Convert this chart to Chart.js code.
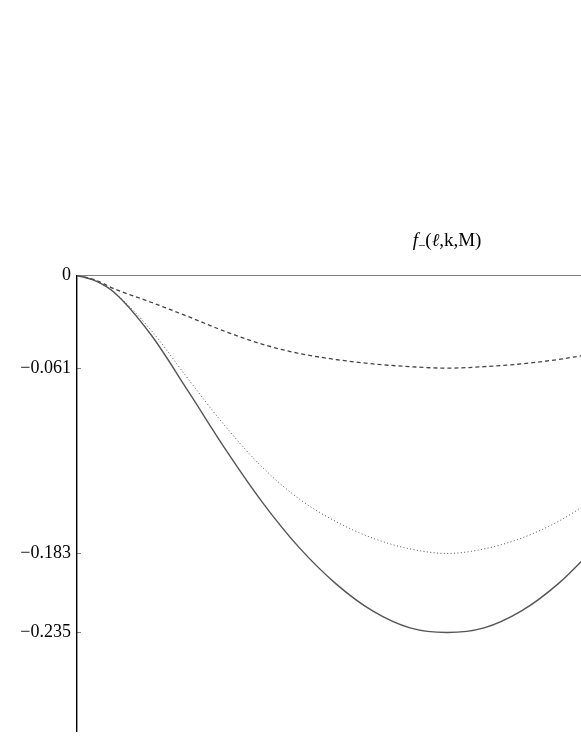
<!DOCTYPE html>
<html>
<head>
<meta charset="utf-8">
<script src="https://cdn.jsdelivr.net/npm/chart.js@4/dist/chart.umd.min.js"></script>
<style>
  html, body { margin: 0; padding: 0; background: #fff; }
  canvas { display: block; }
</style>
</head>
<body>
<canvas id="chart" width="581" height="752"></canvas>
<script>
// curve data (x is in units of the position of the minimum)
const xValues      = [0, 0.05, 0.1, 0.2, 0.3, 0.4, 0.5, 0.6, 0.7, 0.8, 0.9, 1.0, 1.1, 1.2, 1.3, 1.4];
const solidSeries  = [0, -0.0035, -0.011, -0.039, -0.076, -0.114, -0.149, -0.179, -0.203, -0.221, -0.232, -0.235, -0.232, -0.221, -0.203, -0.179];
const dottedSeries = [0, -0.0035, -0.011, -0.036, -0.068, -0.099, -0.126, -0.147, -0.162, -0.173, -0.180, -0.183, -0.180, -0.173, -0.162, -0.147];
const dashedSeries = [0, -0.003, -0.0087, -0.0176, -0.027, -0.0368, -0.0452, -0.0513, -0.0553, -0.0582, -0.060, -0.061, -0.060, -0.0582, -0.0553, -0.0513];
const yTickValues  = [0, -0.061, -0.183, -0.235];

const serif = '"Liberation Serif", "DejaVu Serif", serif';

function toPoints(ys) {
  return xValues.map((x, i) => ({ x: x, y: ys[i] }));
}

function formatTick(v) {
  if (v === 0) return '0';
  return '\u2212' + Math.abs(v).toFixed(3);
}

// title drawn over the middle of the plotted range (the minimum)
const titlePlugin = {
  id: 'curveTitle',
  afterDraw(chart) {
    const ctx = chart.ctx;
    const cx = chart.scales.x.getPixelForValue(1);
    const baseY = 246;
    const parts = [
      { text: 'f', font: 'italic 19px ' + serif, dy: 0 },
      { text: '\u2212', font: '13px ' + serif, dy: 4 },
      { text: '(', font: '19px ' + serif, dy: 0 },
      { text: '\u2113', font: 'italic 18px ' + serif, dy: 0 },
      { text: ',k,M)', font: '19px ' + serif, dy: 0 }
    ];
    ctx.save();
    ctx.fillStyle = '#000';
    ctx.textBaseline = 'alphabetic';
    let total = 0;
    parts.forEach(p => {
      ctx.font = p.font;
      p.w = ctx.measureText(p.text).width;
      total += p.w;
    });
    let x = cx - total / 2;
    parts.forEach(p => {
      ctx.font = p.font;
      ctx.fillText(p.text, x, baseY + p.dy);
      x += p.w;
    });
    ctx.restore();
  }
};

const ctx = document.getElementById('chart').getContext('2d');
const chart = new Chart(ctx, {
  type: 'line',
  data: {
    datasets: [
      {
        label: 'solid',
        data: toPoints(solidSeries),
        borderColor: '#555',
        borderWidth: 1.4,
        pointRadius: 0,
        cubicInterpolationMode: 'monotone',
        fill: false
      },
      {
        label: 'dotted',
        data: toPoints(dottedSeries),
        borderColor: '#555',
        borderWidth: 1,
        borderDash: [1, 2.4],
        pointRadius: 0,
        cubicInterpolationMode: 'monotone',
        fill: false
      },
      {
        label: 'dashed',
        data: toPoints(dashedSeries),
        borderColor: '#444',
        borderWidth: 1.3,
        borderDash: [4, 3],
        pointRadius: 0,
        cubicInterpolationMode: 'monotone',
        fill: false
      }
    ]
  },
  options: {
    responsive: false,
    devicePixelRatio: 1,
    animation: false,
    layout: { padding: { top: 275.5, bottom: 19, left: 0, right: 0 } },
    plugins: {
      legend: { display: false },
      tooltip: { enabled: false }
    },
    scales: {
      x: {
        type: 'linear',
        position: 'top',
        min: 0,
        max: 1.362,
        ticks: { display: false },
        grid: { drawOnChartArea: false, drawTicks: false },
        border: { display: true, color: '#808080', width: 1 }
      },
      y: {
        type: 'linear',
        min: -0.3,
        max: 0,
        afterBuildTicks: scale => {
          scale.ticks = yTickValues.map(v => ({ value: v }));
        },
        afterFit: scale => { scale.width = 77; },
        ticks: {
          color: '#000',
          padding: 10,
          font: { family: serif, size: 18 },
          callback: v => formatTick(v)
        },
        grid: { drawOnChartArea: false, drawTicks: true, tickLength: -4, color: '#808080' },
        border: { display: true, color: '#000', width: 1.4 }
      }
    }
  },
  plugins: [titlePlugin]
});
</script>
</body>
</html>
